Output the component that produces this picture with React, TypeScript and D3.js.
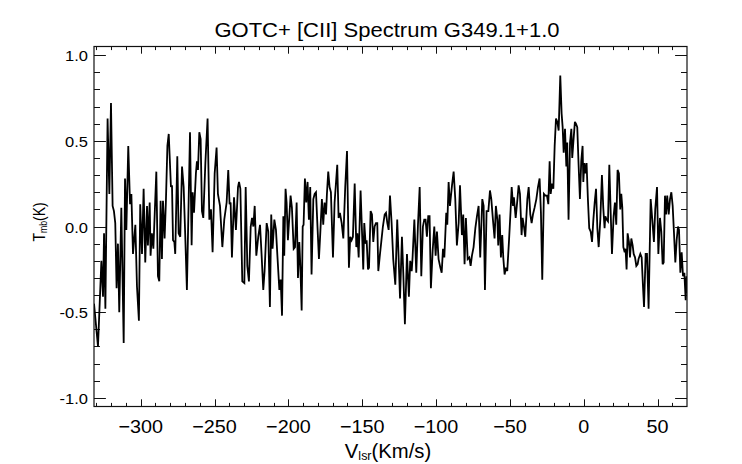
import * as d3 from 'd3';
import React, { ReactElement, useEffect, useRef } from 'react';

const WIDTH = 742;
const HEIGHT = 464;
const PLOT = { left: 94, right: 687, top: 46.5, bottom: 406.5 };
const FONT = "'Liberation Sans', Arial, Helvetica, sans-serif";

const TITLE = 'GOTC+ [CII] Spectrum G349.1+1.0';
const X_DOMAIN = [-331.6, 69.9];
const Y_DOMAIN = [-1.05, 1.05];
const X_MAJOR = [-300, -250, -200, -150, -100, -50, 0, 50];
const X_LABELS = ['\u2212300', '\u2212250', '\u2212200', '\u2212150', '\u2212100', '\u221250', '0', '50'];
const Y_MAJOR = [-1.0, -0.5, 0.0, 0.5, 1.0];
const Y_LABELS = ['-1.0', '-0.5', '0.0', '0.5', '1.0'];

// [V_lsr (km/s), T_mb (K)]
const spectrum: [number, number][] = [
  [-331.6, -0.45], [-328.9, -0.7], [-326.6, -0.2], [-325.5, -0.41], [-324.8, -0.04], [-323.9, -0.48],
  [-322.4, 0.63], [-321.2, 0.19], [-320.1, 0.72], [-319.0, 0.12], [-318.1, 0.09], [-317.2, 0.02],
  [-316.3, -0.36], [-315.4, -0.1], [-314.5, -0.5], [-313.1, 0.11], [-311.5, -0.68], [-310.6, 0.28],
  [-309.7, -0.02], [-308.4, 0.47], [-307.2, 0.13], [-306.3, 0.19], [-305.2, -0.16], [-303.6, 0.01],
  [-302.5, -0.35], [-301.2, -0.55], [-300.3, 0.13], [-299.1, -0.16], [-298.0, 0.22], [-296.9, -0.21],
  [-295.7, 0.12], [-295.1, -0.11], [-293.9, 0.14], [-293.3, -0.17], [-292.4, -0.04], [-291.4, -0.13],
  [-289.4, 0.32], [-288.3, -0.29], [-287.4, -0.32], [-286.5, 0.15], [-285.6, -0.19], [-284.9, 0.15],
  [-283.8, -0.07], [-282.9, 0.15], [-281.9, 0.47], [-281.0, 0.54], [-279.5, 0.23], [-278.8, 0.24],
  [-278.1, -0.08], [-277.2, -0.09], [-276.6, -0.16], [-275.2, 0.41], [-274.3, -0.04], [-273.2, -0.06],
  [-272.0, 0.35], [-270.9, 0.23], [-269.8, -0.06], [-268.7, -0.37],
  [-266.6, 0.55], [-265.5, -0.11], [-264.8, 0.2], [-263.9, 0.08], [-262.6, 0.31], [-261.9, 0.38],
  [-261.2, 0.33], [-260.3, 0.55], [-259.4, 0.51], [-258.5, 0.09], [-257.6, 0.05], [-256.2, 0.37],
  [-254.7, 0.63], [-253.5, 0.04], [-252.4, 0.1], [-251.3, -0.15], [-249.9, 0.31], [-248.6, 0.46],
  [-247.7, 0.19], [-246.3, 0.12], [-244.7, -0.12], [-243.4, 0.04], [-241.8, 0.14], [-240.7, 0.33],
  [-239.8, 0.13], [-239.1, 0.14], [-238.2, -0.18], [-236.8, 0.17], [-235.5, -0.02], [-234.1, 0.23],
  [-233.4, 0.26], [-232.5, 0.22], [-231.2, -0.32], [-229.8, -0.33], [-228.9, 0.23], [-227.8, -0.23],
  [-226.7, -0.32], [-225.5, 0.0], [-224.6, 0.05], [-223.7, 0.0], [-222.8, 0.12], [-221.7, -0.17],
  [-220.4, -0.06], [-219.2, 0.01], [-218.1, -0.17], [-217.0, -0.37], [-216.1, -0.26], [-214.7, 0.02],
  [-213.6, -0.03], [-212.5, -0.47], [-211.6, 0.07], [-210.7, -0.13], [-209.5, 0.04], [-208.4, -0.02],
  [-207.3, -0.19], [-206.1, -0.37], [-205.2, -0.31], [-204.3, -0.52], [-203.4, 0.06], [-202.8, -0.17],
  [-201.9, 0.22], [-201.2, 0.14], [-200.3, -0.08],
  [-198.5, 0.18], [-197.6, 0.11], [-196.4, -0.13], [-195.5, -0.12], [-194.4, 0.14], [-193.5, -0.3],
  [-192.6, -0.09], [-191.9, -0.23], [-191.0, -0.49], [-190.3, 0.0], [-189.7, 0.01], [-188.8, 0.28],
  [-187.9, 0.14], [-187.0, 0.26], [-186.1, 0.04], [-185.2, 0.23], [-184.3, -0.28], [-183.1, 0.16],
  [-182.2, 0.19], [-181.3, 0.2], [-180.4, 0.02], [-179.3, -0.19], [-178.4, -0.04], [-177.3, 0.16],
  [-176.4, 0.01], [-175.5, 0.14], [-174.5, 0.07], [-173.9, 0.19], [-173.0, 0.32], [-172.1, 0.23],
  [-171.2, 0.2], [-169.8, -0.18], [-168.7, 0.14], [-166.9, 0.36], [-166.0, 0.05], [-165.1, 0.08],
  [-163.9, 0.02], [-162.8, -0.07], [-161.5, 0.23], [-160.3, 0.44], [-159.0, -0.24], [-158.1, -0.06],
  [-157.2, -0.08], [-156.3, -0.06], [-155.1, 0.25], [-154.0, -0.12], [-153.3, -0.04], [-152.4, -0.18],
  [-151.1, 0.21], [-149.9, -0.09], [-149.3, -0.25], [-148.6, 0.02], [-147.7, -0.1], [-147.0, -0.08],
  [-146.1, -0.25], [-145.4, -0.24], [-144.3, 0.09], [-143.4, 0.07], [-142.5, -0.09], [-141.6, 0.0],
  [-140.7, 0.02], [-139.8, 0.02], [-139.1, -0.26], [-138.2, -0.18], [-137.1, -0.09], [-136.0, 0.0],
  [-134.8, 0.07], [-133.9, 0.08],
  [-133.0, 0.02], [-132.1, -0.02], [-131.2, 0.18], [-130.1, 0.02], [-129.0, -0.19], [-127.6, -0.34],
  [-126.3, 0.04], [-125.6, -0.12], [-124.4, -0.42], [-123.1, -0.06], [-122.2, -0.27], [-121.1, -0.57],
  [-119.7, -0.16], [-118.4, -0.41], [-117.5, -0.2], [-116.5, -0.26], [-115.9, -0.18], [-114.7, 0.04],
  [-113.4, -0.27], [-112.3, 0.0], [-111.1, 0.23], [-110.0, -0.29], [-108.9, 0.0], [-108.0, 0.04],
  [-107.1, 0.04], [-106.2, -0.06], [-105.3, 0.06], [-104.4, 0.06], [-103.5, -0.36], [-102.3, -0.14],
  [-101.2, 0.0], [-100.3, -0.17], [-99.4, -0.03], [-98.3, -0.19], [-97.1, -0.24], [-96.2, -0.27],
  [-95.3, -0.13], [-94.4, -0.18], [-93.1, 0.08], [-92.4, 0.01], [-91.5, 0.26], [-90.6, 0.12],
  [-89.2, 0.24], [-88.1, 0.32], [-87.0, 0.16], [-85.9, -0.11], [-84.7, 0.02], [-83.8, 0.24],
  [-82.5, -0.05], [-81.6, 0.07], [-80.7, -0.22], [-79.8, 0.05], [-78.6, -0.19], [-77.5, -0.18],
  [-76.6, -0.23], [-75.7, -0.17], [-74.6, -0.12], [-73.4, -0.01], [-72.3, 0.06], [-71.2, 0.12],
  [-70.1, -0.18], [-68.7, 0.16], [-67.8, 0.12],
  [-66.9, -0.37], [-65.8, 0.09], [-64.6, 0.09], [-63.5, 0.21], [-62.6, 0.16], [-61.5, 0.04],
  [-60.4, -0.07], [-59.5, 0.12], [-58.5, 0.04], [-57.9, -0.11], [-57.0, 0.07], [-56.1, -0.18],
  [-55.2, -0.05], [-54.5, -0.18], [-53.6, -0.28], [-52.7, -0.24], [-51.8, -0.26], [-50.6, -0.08],
  [-49.5, 0.1], [-48.8, 0.23], [-47.9, 0.12], [-47.3, 0.17], [-46.1, 0.05], [-45.0, 0.15],
  [-44.1, 0.24], [-43.2, 0.19], [-42.1, -0.05], [-41.4, 0.05], [-40.5, 0.0], [-39.6, -0.06],
  [-38.2, 0.16], [-37.3, 0.23], [-36.2, 0.07], [-35.3, 0.02], [-34.4, 0.07], [-33.3, 0.11],
  [-32.1, 0.16], [-31.0, 0.23], [-29.9, 0.28], [-29.0, 0.08], [-28.1, -0.31], [-27.0, 0.19],
  [-26.0, 0.18], [-24.9, 0.18], [-24.0, 0.13], [-23.1, 0.38], [-22.4, 0.19], [-21.5, 0.25],
  [-20.6, 0.22], [-19.7, 0.47], [-18.8, 0.63], [-17.9, 0.61], [-17.0, 0.56], [-15.9, 0.88],
  [-15.0, 0.66], [-14.3, 0.58], [-13.6, 0.43], [-12.7, 0.57], [-11.8, 0.35], [-11.2, 0.49],
  [-10.3, 0.04], [-9.3, 0.49], [-8.4, 0.57], [-7.8, 0.4], [-6.9, 0.51], [-6.0, 0.61],
  [-5.3, 0.6], [-4.4, 0.58], [-3.5, 0.36], [-2.6, 0.16], [-1.7, 0.38], [-0.8, 0.47],
  [-0.3, 0.26], [0.4, 0.37], [1.0, 0.31], [1.9, 0.37], [2.8, 0.16], [3.7, -0.01],
  [4.7, -0.03], [5.6, -0.09], [6.5, 0.04], [7.4, 0.14], [8.3, 0.22], [9.2, -0.01],
  [10.1, -0.12], [11.2, 0.04], [12.3, 0.3], [13.2, 0.11], [14.1, -0.01], [14.6, 0.06],
  [15.5, 0.04], [16.4, 0.03], [17.3, 0.36], [18.2, 0.09], [19.1, -0.16], [20.2, 0.06],
  [21.1, 0.14], [22.0, 0.01], [22.9, 0.33], [23.8, 0.31], [24.7, 0.1], [25.4, 0.19],
  [26.1, 0.11], [26.8, -0.12], [27.7, -0.15], [28.3, -0.13], [29.0, -0.25], [29.7, -0.04],
  [30.6, -0.09], [31.3, -0.18], [32.2, -0.07], [33.1, -0.11], [33.8, -0.16], [34.7, -0.18],
  [35.6, -0.23], [36.5, -0.22], [37.1, -0.19], [38.3, -0.16], [39.2, -0.18], [40.1, -0.35],
  [40.8, -0.47], [41.9, -0.16], [42.8, -0.16], [43.9, -0.48], [45.3, 0.16], [46.4, 0.04],
  [47.5, -0.09], [48.4, 0.1], [49.6, 0.23], [50.5, -0.16], [51.6, 0.05], [52.5, -0.03],
  [53.4, -0.22], [54.1, -0.21], [55.0, 0.18], [55.7, 0.07], [56.5, 0.18], [57.5, 0.07],
  [58.4, 0.16], [59.3, 0.2], [60.2, 0.12], [61.1, -0.04], [62.0, -0.21], [62.9, -0.08],
  [63.8, 0.0], [64.5, -0.02], [65.4, -0.27], [66.3, -0.15], [67.2, -0.29], [68.1, -0.27],
  [69.0, -0.43], [69.6, -0.29], [70.5, -0.39],
];

const SpectrumPlot = (): ReactElement => {
  const ref = useRef<SVGSVGElement>(null);

  useEffect(() => {
    const svg = d3.select(ref.current);
    svg.selectAll('*').remove();

    const x = d3.scaleLinear().domain(X_DOMAIN).range([PLOT.left, PLOT.right]);
    const y = d3.scaleLinear().domain(Y_DOMAIN).range([PLOT.bottom, PLOT.top]);

    svg
      .append('rect')
      .attr('width', WIDTH)
      .attr('height', HEIGHT)
      .attr('fill', '#fff');

    // IDL-style inward ticks on all four sides (length ~2% of the opposite axis)
    const ticks = svg.append('g').attr('stroke', '#111').attr('stroke-width', 1);
    const xMinor = d3.range(-330, 70, 10);
    xMinor.forEach((v) => {
      const major = X_MAJOR.includes(v);
      const len = major ? 7.2 : 3.6;
      const px = Math.round(x(v)) + 0.5;
      ticks.append('line').attr('x1', px).attr('x2', px).attr('y1', PLOT.bottom).attr('y2', PLOT.bottom - len);
      ticks.append('line').attr('x1', px).attr('x2', px).attr('y1', PLOT.top).attr('y2', PLOT.top + len);
    });
    const yMinor = d3.range(-10, 11, 1).map((d) => d / 10);
    yMinor.forEach((v) => {
      const major = Math.abs(v * 2 - Math.round(v * 2)) < 1e-6;
      const len = major ? 11.9 : 6;
      const py = Math.round(y(v)) + 0.5;
      ticks.append('line').attr('x1', PLOT.left).attr('x2', PLOT.left + len).attr('y1', py).attr('y2', py);
      ticks.append('line').attr('x1', PLOT.right).attr('x2', PLOT.right - len).attr('y1', py).attr('y2', py);
    });

    svg
      .append('clipPath')
      .attr('id', 'plot-clip')
      .append('rect')
      .attr('x', PLOT.left)
      .attr('y', PLOT.top)
      .attr('width', PLOT.right - PLOT.left)
      .attr('height', PLOT.bottom - PLOT.top);

    const line = d3
      .line<[number, number]>()
      .x((d) => x(d[0]))
      .y((d) => y(d[1]));

    svg
      .append('path')
      .datum(spectrum)
      .attr('clip-path', 'url(#plot-clip)')
      .attr('d', line)
      .attr('fill', 'none')
      .attr('stroke', '#000')
      .attr('stroke-width', 1.8)
      .attr('stroke-linejoin', 'miter')
      .attr('stroke-miterlimit', 3);

    svg
      .append('rect')
      .attr('x', PLOT.left)
      .attr('y', PLOT.top)
      .attr('width', PLOT.right - PLOT.left)
      .attr('height', PLOT.bottom - PLOT.top)
      .attr('fill', 'none')
      .attr('stroke', '#111')
      .attr('stroke-width', 1.2);

    const text = svg.append('g').attr('font-family', FONT).attr('fill', '#000');

    text
      .append('text')
      .attr('transform', `translate(387, 37) scale(1.13, 1)`)
      .attr('text-anchor', 'middle')
      .attr('font-size', 19.5)
      .text(TITLE);

    X_MAJOR.forEach((v, i) => {
      text
        .append('text')
        .attr('transform', `translate(${x(v)}, 432.5) scale(1.07, 1)`)
        .attr('text-anchor', 'middle')
        .attr('font-size', 18.5)
        .text(X_LABELS[i]);
    });

    Y_MAJOR.forEach((v, i) => {
      text
        .append('text')
        .attr('transform', `translate(88, ${y(v) + 6}) scale(1.1, 1)`)
        .attr('text-anchor', 'end')
        .attr('font-size', 15)
        .text(Y_LABELS[i]);
    });

    const xTitle = text
      .append('text')
      .attr('transform', `translate(388, 458) scale(1.04, 1)`)
      .attr('text-anchor', 'middle')
      .attr('font-size', 19.5);
    xTitle.append('tspan').text('V');
    xTitle.append('tspan').attr('font-size', 12).attr('dy', 2).text('lsr');
    xTitle.append('tspan').attr('dy', -2).text('(Km/s)');

    const yTitle = text
      .append('text')
      .attr('transform', `translate(45, 222) rotate(-90) scale(0.87, 1)`)
      .attr('text-anchor', 'middle')
      .attr('font-size', 16);
    yTitle.append('tspan').text('T');
    yTitle.append('tspan').attr('font-size', 10).attr('dy', 2).text('mb');
    yTitle.append('tspan').attr('dy', -2).text('(K)');
  }, []);

  return (
    <svg
      ref={ref}
      width={WIDTH}
      height={HEIGHT}
      style={{ position: 'absolute', left: 0, top: 0, display: 'block' }}
    />
  );
};

export default function App(): ReactElement {
  return <SpectrumPlot />;
}
